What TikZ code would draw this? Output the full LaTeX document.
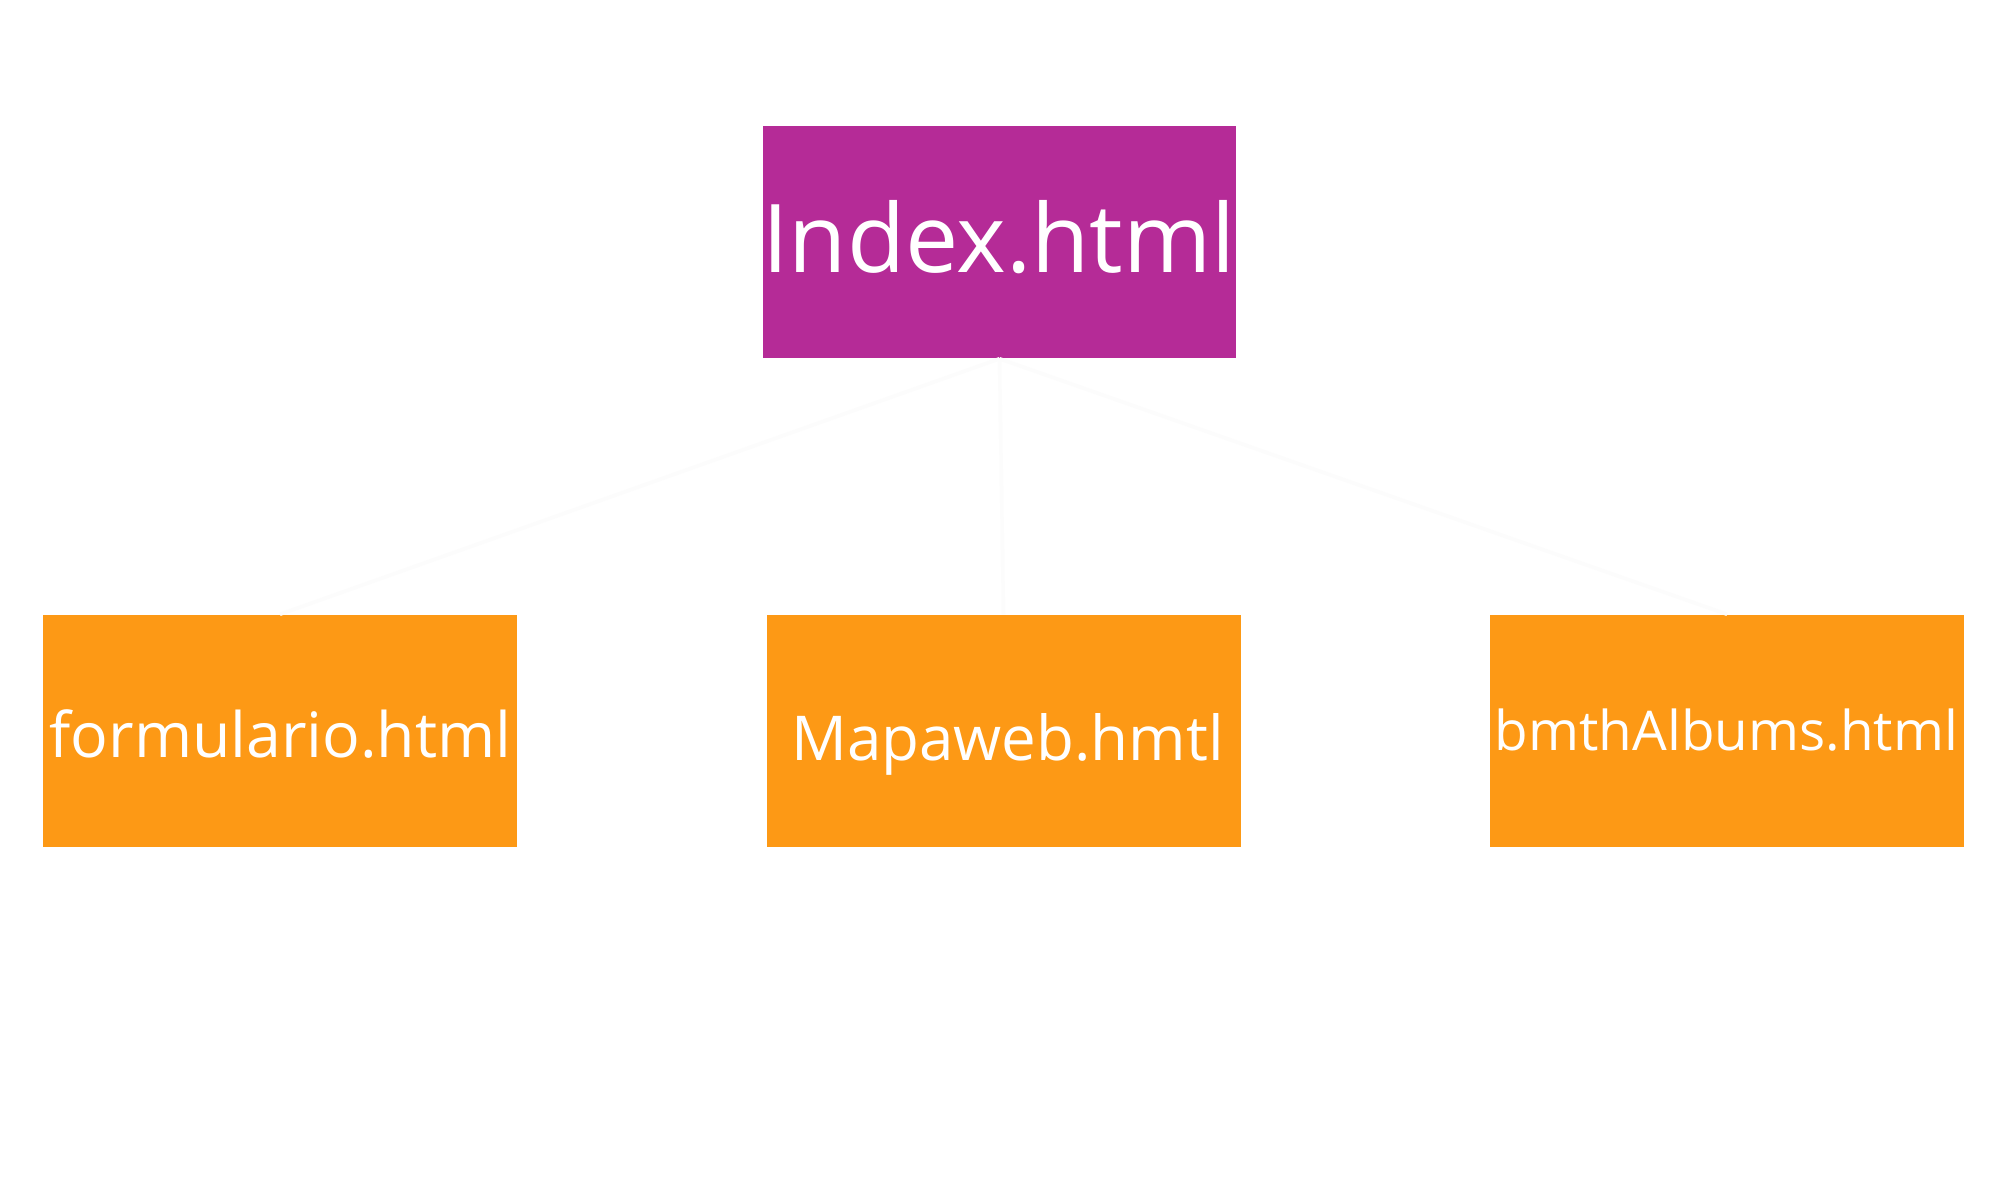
\documentclass[tikz,border=0pt]{standalone}
\usepackage{fontspec}
\setmainfont{Open Sans}
\definecolor{idxpurple}{RGB}{181,43,151}
\definecolor{pageorange}{RGB}{253,153,21}
\tikzset{
  pagebox/.style={rectangle, inner sep=0pt, minimum width=4.74cm, minimum height=2.32cm, fill=pageorange},
  rootbox/.style={pagebox, fill=idxpurple, minimum width=4.73cm},
  lbl/.style={anchor=base, inner sep=0pt, text=white},
  link/.style={draw=gray!2.5, line width=1pt}
}
\begin{document}
\begin{tikzpicture}
\useasboundingbox (0,0) rectangle (20,-12);
\fill[white] (0,0) rectangle (20,-12);
% boxes
\node[rootbox] (idx) at (9.995,-2.42) {};
\node[pagebox] (form) at (2.80,-7.31) {};
\node[pagebox] (mapa) at (10.035,-7.31) {};
\node[pagebox] (bmth) at (17.27,-7.31) {};
% connectors
\draw[link] (idx.south) -- (form.north);
\draw[link] (idx.south) -- (mapa.north);
\draw[link] (idx.south) -- (bmth.north);
% labels
\node[lbl] (tidx) at (9.99,-2.72) {\fontsize{27pt}{30pt}\selectfont Index.html};
\node[lbl] (tform) at (2.805,-7.57) {\fontsize{17.8pt}{20pt}\selectfont formulario.html};
\node[lbl] (tmapa) at (10.075,-7.60) {\fontsize{17.6pt}{20pt}\selectfont Mapaweb.hmtl};
\node[lbl] (tbmth) at (17.265,-7.50) {\fontsize{15.6pt}{18pt}\selectfont bmthAlbums.html};
\end{tikzpicture}
\end{document}
